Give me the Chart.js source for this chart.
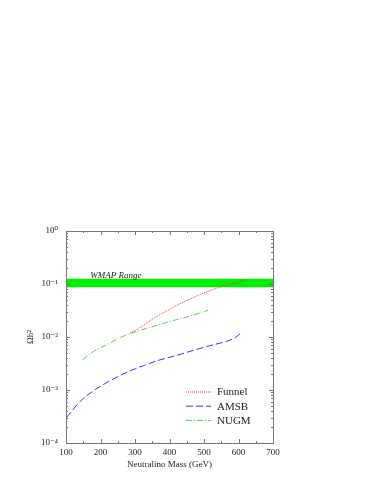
<!DOCTYPE html>
<html>
<head>
<meta charset="utf-8">
<script src="https://cdn.jsdelivr.net/npm/chart.js@4"></script>
<style>
  html, body { margin: 0; padding: 0; background: #fff; }
  #wrap { width: 387px; height: 501px; }
</style>
</head>
<body>
<div id="wrap"><canvas id="relic"></canvas></div>
<script>
// values
const funnelMass  = [286, 320, 353, 401, 450, 498, 546, 594, 623];
const funnelOmega = [0.0119, 0.0158, 0.0222, 0.0335, 0.049, 0.067, 0.087, 0.107, 0.121];

const amsbMass  = [101, 141, 180, 228, 276, 324, 372, 421, 469, 517, 565, 589, 604];
const amsbOmega = [0.0003, 0.00061, 0.00097, 0.0015, 0.00215, 0.00287, 0.0037, 0.0045, 0.0056, 0.00685, 0.0083, 0.0096, 0.0114];

const nugmMass  = [148, 180, 228, 257, 305, 353, 401, 450, 512];
const nugmOmega = [0.00373, 0.00535, 0.0077, 0.0098, 0.0128, 0.0158, 0.0197, 0.0238, 0.0318];

const wmapMass = [100, 700];
const wmapLow  = [0.087, 0.087];
const wmapHigh = [0.125, 0.125];
const wmapLabel = 'WMAP Range';
const wmapLabelAt = [170, 0.145];

const yTickLabels = { '-4': '10⁻⁴', '-3': '10⁻³', '-2': '10⁻²', '-1': '10⁻¹', '0': '10⁰' };
const xTitle = 'Neutralino Mass (GeV)';
const yTitle = 'Ωh²';

const toXY = (xs, ys) => xs.map((x, i) => ({ x: x, y: ys[i] }));
const serif = '"Liberation Serif", "DejaVu Serif", serif';

// ticks drawn inside the frame, like the original plot
const frameTicks = {
    id: 'frameTicks',
    afterDatasetsDraw(chart) {
        const { ctx, chartArea: a, scales: { x, y } } = chart;
        ctx.save();
        ctx.strokeStyle = '#777';
        ctx.lineWidth = 1;
        ctx.strokeRect(Math.round(a.left) + 0.5, Math.round(a.top) + 0.5,
            Math.round(a.width), Math.round(a.height));
        ctx.beginPath();
        for (let v = 100; v <= 700; v += 50) {
            const px = Math.round(x.getPixelForValue(v)) + 0.5;
            const len = v % 100 === 0 ? 4 : 2;
            ctx.moveTo(px, a.bottom); ctx.lineTo(px, a.bottom - len);
            ctx.moveTo(px, a.top); ctx.lineTo(px, a.top + len);
        }
        for (let e = -4; e <= 0; e++) {
            for (let k = 1; k <= 9; k++) {
                const v = k * Math.pow(10, e);
                if (v > 1) break;
                const py = Math.round(y.getPixelForValue(v)) + 0.5;
                const len = k === 1 ? 4 : 2;
                ctx.moveTo(a.left, py); ctx.lineTo(a.left + len, py);
                ctx.moveTo(a.right, py); ctx.lineTo(a.right - len, py);
            }
        }
        ctx.stroke();

        // band label
        ctx.fillStyle = '#222';
        ctx.font = 'italic 9px ' + serif;
        ctx.textBaseline = 'middle';
        ctx.fillText(wmapLabel, x.getPixelForValue(wmapLabelAt[0]), y.getPixelForValue(wmapLabelAt[1]));

        // legend inside the plot
        const lx = a.right - 87;
        [2, 3, 4].forEach((idx, i) => {
            const ds = chart.data.datasets[idx];
            const ly = a.bottom - 51 + i * 14.2;
            ctx.setLineDash(ds.borderDash || []);
            ctx.strokeStyle = ds.borderColor;
            ctx.lineWidth = ds.borderWidth;
            ctx.beginPath();
            ctx.moveTo(lx, ly); ctx.lineTo(lx + 25, ly);
            ctx.stroke();
            ctx.setLineDash([]);
            ctx.fillStyle = '#222';
            ctx.font = '11px ' + serif;
            ctx.fillText(ds.label, lx + 31, ly + 0.5);
        });
        ctx.restore();
    }
};

new Chart(document.getElementById('relic'), {
    type: 'line',
    data: {
        datasets: [
            {
                label: 'wmap-low',
                data: toXY(wmapMass, wmapLow),
                borderWidth: 0,
                pointRadius: 0,
                order: 10,
                fill: false
            },
            {
                label: 'wmap-high',
                data: toXY(wmapMass, wmapHigh),
                borderWidth: 0,
                pointRadius: 0,
                backgroundColor: '#00f000',
                order: 9,
                fill: '-1'
            },
            {
                label: 'Funnel',
                data: toXY(funnelMass, funnelOmega),
                borderColor: '#ff3333',
                borderWidth: 1,
                borderDash: [1, 1],
                pointRadius: 0,
                cubicInterpolationMode: 'monotone',
                order: 1,
                fill: false
            },
            {
                label: 'AMSB',
                data: toXY(amsbMass, amsbOmega),
                borderColor: '#3333ff',
                borderWidth: 1,
                borderDash: [7, 3],
                pointRadius: 0,
                cubicInterpolationMode: 'monotone',
                order: 2,
                fill: false
            },
            {
                label: 'NUGM',
                data: toXY(nugmMass, nugmOmega),
                borderColor: '#55cc55',
                borderWidth: 1,
                borderDash: [6, 2, 1, 2],
                pointRadius: 0,
                cubicInterpolationMode: 'monotone',
                order: 3,
                fill: false
            }
        ]
    },
    options: {
        responsive: true,
        maintainAspectRatio: false,
        animation: false,
        layout: { padding: { left: 0, right: 114, top: 231, bottom: 0 } },
        plugins: {
            legend: { display: false },
            tooltip: { enabled: false }
        },
        scales: {
            x: {
                type: 'linear',
                min: 100,
                max: 700,
                grid: { display: false, drawTicks: false },
                border: { display: false },
                afterFit: s => { s.height = 58; },
                ticks: {
                    stepSize: 100,
                    autoSkip: false,
                    maxRotation: 0,
                    padding: 4,
                    color: '#222',
                    font: { family: serif, size: 9 }
                },
                title: {
                    display: true,
                    text: xTitle,
                    color: '#222',
                    font: { family: serif, size: 9 },
                    padding: { top: 0, bottom: 31 }
                }
            },
            y: {
                type: 'logarithmic',
                min: 1e-4,
                max: 1,
                grid: { display: false, drawTicks: false },
                border: { display: false },
                afterFit: s => { s.width = 66; },
                ticks: {
                    autoSkip: false,
                    padding: 8,
                    color: '#222',
                    font: { family: serif, size: 9 },
                    callback: v => {
                        const e = Math.log10(v);
                        return Math.abs(e - Math.round(e)) < 1e-6 ? yTickLabels[String(Math.round(e))] : '';
                    }
                },
                title: {
                    display: true,
                    text: yTitle,
                    color: '#222',
                    font: { family: serif, size: 9 },
                    padding: { top: 25, bottom: 0 }
                }
            }
        }
    },
    plugins: [frameTicks]
});
</script>
</body>
</html>
